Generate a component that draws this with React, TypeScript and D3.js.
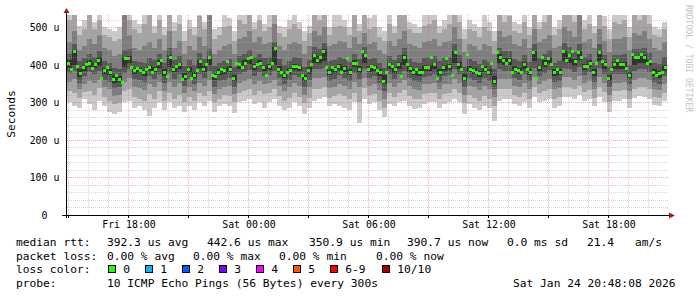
import React from 'react';
import * as d3 from 'd3';

// median rtt in microseconds, one value every 9 minutes from Fri 14:54
const median = [405,387,435,397,376,392,400,405,390,400,
413,363,385,392,381,360,373,362,352,416,
416,392,384,390,385,379,387,392,379,387,
405,413,379,368,421,387,395,400,360,368,
387,365,373,384,408,387,400,419,373,368,
380,389,384,408,389,365,405,400,392,405,
416,419,395,400,405,392,373,395,405,443,
389,381,373,380,384,395,397,392,373,365,
385,400,424,413,419,437,392,381,392,387,
395,381,390,416,381,405,405,387,437,424,
389,395,392,385,379,355,379,400,397,387,
400,368,421,400,390,381,389,379,381,392,
392,419,400,365,380,392,416,395,373,432,
400,387,365,429,389,385,379,376,395,389,
381,403,357,432,421,411,405,411,379,389,
385,381,400,389,381,432,365,392,421,405,
416,400,379,389,381,435,413,425,435,408,
432,419,395,395,405,379,405,432,408,400,
365,387,400,413,400,400,390,373,427,419,
419,427,419,405,408,379,373,376,381,392];

// sorted pings (1 = fastest, 10 = slowest), one column every 15 minutes
const ping1 = [300,290,285,310,295,280,305,290,275,270, 275,300,305,285,290,280,265,285,300,280, 300,285,290,275,290,280,300,290,305,275, 290,295,290,272,300,305,310,295,300,285, 300,310,290,280,285,300,290,270,285,305, 310,315,290,295,290,285,280,300,245,310, 295,300,280,262,295,290,300,305,290,282, 285,295,300,300,285,295,300,310,300,270, 295,285,280,290,285,250,305,310,310,295, 290,300,285,315,300,305,310,285,290,315, 315,310,320,305,308,290,315,300,275,305, 305,310,285,312,318,315,310,292,290,305];
const ping2 = [330,325,312,328,330,320,338,315,305,295, 298,330,335,315,310,305,322,310,330,305, 325,310,320,300,315,305,325,318,330,300, 310,320,318,300,325,330,335,320,330,322, 325,335,318,305,312,325,315,298,312,335, 335,340,312,318,322,318,310,325,300,338, 320,322,305,285,325,315,325,332,318,310, 310,322,325,326,310,322,325,335,325,298, 320,312,305,318,310,290,335,335,336,320, 315,325,310,340,325,330,336,310,315,340, 340,335,345,328,332,312,340,328,300,330, 330,332,310,335,340,340,335,315,312,326];
const ping3 = [355,362,335,350,358,352,360,340,335,318, 320,355,365,342,338,332,350,340,355,330, 355,340,352,325,340,330,352,345,360,322, 335,340,345,322,352,358,362,348,358,350, 352,360,345,330,340,352,345,320,340,365, 365,368,338,342,350,345,335,355,340,365, 345,350,332,310,352,340,352,360,345,335, 334,348,350,352,335,348,350,362,352,320, 345,340,332,345,336,315,362,362,362,345, 340,352,335,368,350,356,362,335,338,368, 368,360,370,352,358,335,368,352,320,352, 352,355,330,360,365,365,360,336,332,350];
const ping4 = [378,385,352,370,380,376,385,360,355,338, 340,378,390,362,360,355,370,362,375,352, 378,362,375,345,362,350,375,365,385,342, 356,360,366,342,375,380,386,370,380,370, 372,385,365,350,360,372,368,340,360,390, 388,392,358,362,372,366,356,378,362,388, 365,370,352,330,375,362,375,385,366,356, 354,368,370,375,355,370,372,388,375,340, 365,360,352,366,356,335,388,385,385,365, 360,375,356,392,370,378,386,355,356,392, 390,382,395,372,380,355,392,375,340,375, 375,376,350,384,388,388,382,355,350,370];
const ping5 = [392,400,368,385,395,392,398,375,372,352, 355,395,404,376,378,370,384,380,392,370, 395,380,390,360,378,365,392,380,400,360, 372,376,380,358,390,396,402,386,396,384, 386,400,380,365,376,386,384,356,376,405, 405,410,372,378,386,382,372,395,378,405, 380,384,370,348,390,378,390,400,382,372, 370,384,384,390,372,384,386,405,390,356, 380,376,368,380,372,350,405,400,400,380, 376,390,372,410,384,395,402,370,372,410, 405,398,412,386,395,370,410,390,356,390, 390,390,364,400,404,404,398,370,366,384];
const ping6 = [412,440,390,400,412,406,420,392,388,372, 370,422,425,392,392,386,400,395,412,388, 426,394,406,378,394,382,414,396,425,376, 388,392,396,374,406,412,422,402,412,400, 402,448,396,382,392,402,400,374,394,430, 425,442,390,394,402,398,390,412,396,430, 396,400,388,372,406,394,408,426,398,390, 388,400,400,406,390,400,402,438,408,375, 396,392,384,396,390,370,428,418,418,396, 392,408,390,438,400,412,422,388,390,440, 430,416,438,402,412,388,438,408,374,408, 408,408,382,425,424,426,414,388,384,400];
const ping7 = [428,455,410,418,430,422,438,410,405,392, 390,440,442,410,408,405,418,412,430,406, 445,412,425,398,412,400,432,415,442,396, 405,410,415,395,425,430,440,420,430,418, 420,462,415,400,410,420,418,395,412,448, 442,458,410,412,420,416,408,430,415,448, 415,418,405,392,425,412,426,445,416,408, 406,418,420,425,410,418,420,455,426,395, 415,410,402,414,408,390,445,436,438,415, 410,426,408,455,418,430,440,406,410,458, 448,435,455,420,430,406,455,426,394,426, 426,428,400,442,442,444,432,406,402,420];
const ping8 = [460,490,440,450,470,455,480,445,440,425, 430,540,480,445,440,450,460,445,470,440, 490,445,465,430,450,440,475,450,540,430, 440,450,455,430,470,475,490,460,475,455, 460,510,450,440,455,460,455,430,450,490, 480,500,450,455,465,460,445,475,455,485, 455,460,440,430,465,450,470,490,455,450, 445,460,465,470,450,460,465,500,470,435, 455,450,440,455,450,430,490,475,480,455, 450,470,445,495,460,470,480,445,450,500, 490,475,540,460,470,445,495,465,435,470, 470,475,440,485,480,490,470,445,440,460];
const ping9 = [520,540,480,495,540,495,520,480,475,465, 470,545,520,495,485,510,540,485,520,480, 540,490,510,465,495,480,530,495,560,470, 480,500,505,465,520,510,545,495,520,490, 500,560,485,475,495,510,495,465,485,545, 520,550,480,500,505,500,480,540,490,540, 495,500,475,465,510,485,540,545,495,485, 485,505,510,520,485,495,510,550,515,470, 495,490,475,500,490,465,545,515,530,490, 485,515,480,545,495,515,540,480,495,550, 540,515,560,495,510,485,545,505,470,515, 510,520,475,540,520,545,510,480,475,495];
const ping10 = [580,600,505,520,600,515,590,500,495,490, 500,600,590,520,510,570,600,505,590,500, 600,515,560,490,520,500,600,515,620,495, 500,560,525,490,600,540,600,515,600,510, 570,620,505,500,520,580,515,490,505,600, 560,610,500,560,540,520,500,600,510,600, 525,560,500,490,580,505,600,610,515,510, 500,560,545,600,505,520,570,610,545,495, 520,510,500,560,515,490,600,545,590,515, 510,580,500,600,515,560,600,500,520,610, 600,540,620,520,570,505,600,530,495,580, 540,580,500,600,560,600,540,500,495,515];

const yTicks = [0, 100, 200, 300, 400, 500];
const yTickLabels = ['0', '100 u', '200 u', '300 u', '400 u', '500 u'];
const xLabelHours = [3.1, 9.1, 15.1, 21.1, 27.1];
const xLabels = ['Fri 18:00', 'Sat 00:00', 'Sat 06:00', 'Sat 12:00', 'Sat 18:00'];
const lossLabels = ['0', '1', '2', '3', '4', '5', '6-9', '10/10'];
const lossColors = ['#26ff00', '#00b8ff', '#0059ff', '#7e00ff', '#ff00ff', '#ff5500', '#ff0000', '#a10000'];
const smokeColors = ['#cacaca', '#a4a4a4', '#7e7e7e', '#585858', '#323232'];

const MONO = '"DejaVu Sans Mono", monospace';

export default function App() {
  const W = 697, H = 297;
  const x0 = 67, x1 = 667, yTop = 15, yBot = 215;
  const yMax = 533.333;
  const xs = d3.scaleLinear().domain([0, 30]).range([x0, x1]);
  const ys = d3.scaleLinear().domain([0, yMax]).range([yBot, yTop]);
  const cy = (v: number) => ys(Math.min(v, yMax));
  const pings = [ping1, ping2, ping3, ping4, ping5, ping6, ping7, ping8, ping9, ping10];
  const smokeStep = 0.25;
  const medStep = 0.15;

  const smoke: JSX.Element[] = [];
  ping1.forEach((_, j) => {
    const col = pings.map(p => p[j]).sort((a, b) => a - b);
    const xa = xs(j * smokeStep), xb = xs((j + 1) * smokeStep);
    for (let b = 0; b < 5; b++) {
      const lo = col[b], hi = col[9 - b];
      const yt = cy(hi), yb = cy(lo);
      smoke.push(<rect key={`s${j}_${b}`} x={xa} y={yt} width={xb - xa} height={Math.max(0, yb - yt)} fill={smokeColors[b]} />);
    }
  });

  const minorH = d3.range(20, 521, 20).filter(v => v % 100 !== 0);
  const majorH = [100, 200, 300, 400, 500];
  const hours = d3.range(0, 30).map(k => 0.1 + k);
  const px = (v: number) => Math.round(v) + 0.5;

  const legendY = [245.7, 259.5, 273.3, 287.1];

  return (
    <div style={{ position: 'absolute', left: 0, top: 0 }}>
      <svg width={W} height={H} xmlns="http://www.w3.org/2000/svg" style={{ display: 'block' }}>
        <rect x={0} y={0} width={W} height={H} fill="#ffffff" />
        <g shapeRendering="crispEdges">{smoke}</g>
        <g>
          {median.map((m, i) => (
            <rect key={`m${i}`} x={xs((i + 0.5) * medStep) - 1.5} y={ys(m) - 1.5} width={3} height={3} fill={lossColors[0]} shapeRendering="crispEdges" />
          ))}
        </g>
        <g shapeRendering="crispEdges" strokeWidth={1} strokeDasharray="1,1">
          {minorH.map(v => (
            <line key={`mh${v}`} x1={x0} x2={668} y1={px(ys(v))} y2={px(ys(v))} stroke="rgba(170,170,170,0.5)" />
          ))}
          {hours.map((h, k) => (
            <line key={`vh${k}`} x1={px(xs(h)) - 1} x2={px(xs(h)) - 1} y1={yTop} y2={yBot} stroke={k % 3 === 0 ? 'rgba(225,90,90,0.5)' : 'rgba(170,170,170,0.5)'} />
          ))}
          {majorH.map(v => (
            <line key={`Mh${v}`} x1={x0} x2={668} y1={px(ys(v))} y2={px(ys(v))} stroke="rgba(225,90,90,0.5)" />
          ))}
        </g>
        <g shapeRendering="crispEdges">
          <line x1={62} x2={670} y1={215.5} y2={215.5} stroke="#000" />
          <line x1={66.5} x2={66.5} y1={218} y2={12} stroke="#000" />
          {hours.filter((_, k) => k % 3 === 0).map((h, k) => (
            <line key={`tk${k}`} x1={px(xs(h)) - 1} x2={px(xs(h)) - 1} y1={215} y2={218} stroke="#000" />
          ))}
        </g>
        <polygon points="63.5,13 69.5,13 66.5,8" fill="#9a1c1c" />
        <polygon points="669,212.5 669,218.5 675,215.5" fill="#9a1c1c" />
        <g fontFamily={MONO} fontSize={9.9} fill="#000" textAnchor="middle">
          {yTicks.map((v, i) => (
            <text key={`yl${v}`} x={44.5} y={ys(v) + 3.6} style={{ whiteSpace: 'pre' }}>{yTickLabels[i]}</text>
          ))}
          {xLabelHours.map((h, i) => (
            <text key={`xl${i}`} x={xs(h)} y={227.7}>{xLabels[i]}</text>
          ))}
        </g>
        <text transform="translate(14.5,114) rotate(-90)" textAnchor="middle" fontFamily={MONO} fontSize={11.25} fill="#000">Seconds</text>
        <text transform="translate(686,5) rotate(90)" fontFamily={MONO} fontSize={8.1} fill="#c4c4c4">RRDTOOL / TOBI OETIKER</text>
        <g fontFamily={MONO} fontSize={11.25} fill="#000" style={{ whiteSpace: 'pre' }}>
          <text x={16} y={legendY[0]}>median rtt:</text>
          <text x={107} y={legendY[0]}>392.3 us avg</text>
          <text x={207} y={legendY[0]}>442.6 us max</text>
          <text x={309} y={legendY[0]}>350.9 us min</text>
          <text x={407} y={legendY[0]}>390.7 us now</text>
          <text x={507} y={legendY[0]}>0.0 ms sd</text>
          <text x={587} y={legendY[0]}>21.4</text>
          <text x={635} y={legendY[0]}>am/s</text>
          <text x={16} y={legendY[1]}>packet loss:</text>
          <text x={107} y={legendY[1]}>0.00 % avg</text>
          <text x={193} y={legendY[1]}>0.00 % max</text>
          <text x={279} y={legendY[1]}>0.00 % min</text>
          <text x={376} y={legendY[1]}>0.00 % now</text>
          <text x={16} y={legendY[2]}>loss color:</text>
          {lossLabels.map((l, k) => {
            const bx = k < 7 ? 108 + 37 * k : 382;
            return (
              <g key={`lc${k}`}>
                <rect x={bx + 0.5} y={265.5} width={7} height={7} fill={lossColors[k]} stroke="#000" strokeWidth={1} shapeRendering="crispEdges" />
                <text x={bx + 15.3} y={legendY[2]}>{l}</text>
              </g>
            );
          })}
          <text x={16} y={legendY[3]}>probe:</text>
          <text x={107} y={legendY[3]}>10 ICMP Echo Pings (56 Bytes) every 300s</text>
          <text x={513} y={legendY[3]}>Sat Jan 24 20:48:08 2026</text>
        </g>
      </svg>
    </div>
  );
}
